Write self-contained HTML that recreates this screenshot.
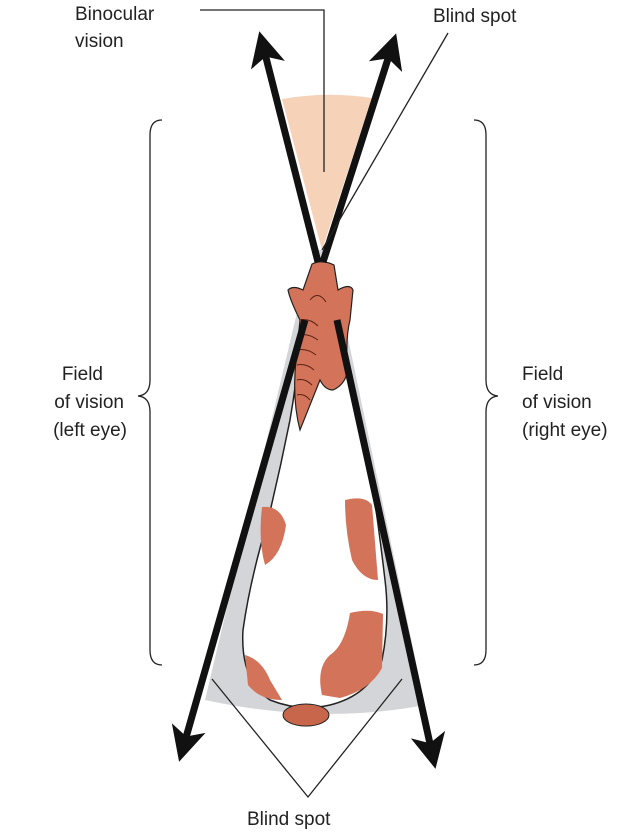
<!DOCTYPE html>
<html><head><style>
body{margin:0;background:#fff;}
svg{display:block;}
text{font-family:"Liberation Sans",sans-serif;font-size:19px;fill:#222;}
</style></head><body>
<svg width="640" height="834" viewBox="0 0 640 834">
<defs>
<marker id="ah" viewBox="0 0 10 10" refX="8" refY="5" markerWidth="5" markerHeight="5" orient="auto" markerUnits="strokeWidth">
<path d="M0,0 L10,5 L0,10 L2.5,5 Z" fill="#111"/></marker>
</defs>
<path d="M282,99 Q327,91 372,98 L322,250 Z" fill="#f6d2b8"/>
<path d="M300,300 L340,300 L425,705 Q320,725 205,700 Z" fill="#d4d5d8"/>
<path d="M315,250 L328,250 L321,262 Z" fill="#d4d5d8"/>
<!-- horse body -->
<path d="M300,340 Q297,380 290,420 Q280,470 268,520 Q250,580 243,630 Q240,680 270,700 Q300,712 330,705 Q370,695 382,660 Q390,620 385,580 Q378,520 370,470 Q360,420 350,380 Q345,355 345,340 Z" fill="#fff" stroke="#222" stroke-width="1.5"/>
<!-- spots -->
<path d="M262,507 Q280,505 286,525 Q282,555 265,565 Q258,540 262,507 Z" fill="#d2735a"/>
<path d="M345,500 Q365,495 372,505 L378,580 Q362,580 352,560 Q345,530 345,500 Z" fill="#d2735a"/>
<path d="M350,613 Q370,608 383,614 L382,668 Q370,690 340,698 L322,695 Q316,668 330,655 Q345,645 350,613 Z" fill="#d2735a"/>
<path d="M245,655 Q262,660 270,680 L282,700 Q260,700 248,685 Z" fill="#d2735a"/>
<!-- head/neck -->
<path d="M312,264 Q322,259 334,265 L338,290 Q350,283 353,290 L350,320 Q345,340 348,370 Q345,385 333,390 Q325,390 320,380 L300,430 Q292,400 296,360 L300,320 Q290,300 288,290 Q293,285 303,290 Z" fill="#d2735a" stroke="#222" stroke-width="1.2"/>
<g stroke="#5a2214" stroke-width="1" fill="none">
<path d="M300,320 Q310,318 318,326"/><path d="M298,335 Q308,333 318,340"/><path d="M297,350 Q307,348 316,355"/><path d="M297,365 Q306,363 314,370"/><path d="M297,380 Q305,378 312,385"/><path d="M297,395 Q304,393 310,400"/><path d="M310,300 Q318,290 326,302"/>
</g>
<ellipse cx="306" cy="715" rx="23" ry="11" fill="#c8664c" stroke="#222" stroke-width="1"/>
<g stroke="#111" stroke-width="7" fill="none" marker-end="url(#ah)">
<line x1="318" y1="262" x2="261" y2="38"/>
<line x1="323" y1="262" x2="394" y2="40"/>
<line x1="305" y1="320" x2="181" y2="755"/>
<line x1="337" y1="320" x2="434" y2="762"/>
</g>
<g stroke="#222" stroke-width="1.3" fill="none">
<polyline points="200,10 324,10 324,172"/>
<line x1="448" y1="33" x2="322" y2="250"/>
<polyline points="212,679 308,797 402,679"/>
<path d="M162,120 Q150,120 150,135 L150,380 Q150,395 138,396 Q150,397 150,412 L150,650 Q150,665 162,665"/>
<path d="M474,120 Q486,120 486,135 L486,380 Q486,395 498,396 Q486,397 486,412 L486,650 Q486,665 474,665"/>
</g>
<text x="75" y="20">Binocular</text>
<text x="75" y="47">vision</text>
<text x="433" y="22">Blind spot</text>
<text x="103" y="380" text-anchor="end">Field</text>
<text x="124" y="408" text-anchor="end">of vision</text>
<text x="127" y="436" text-anchor="end">(left eye)</text>
<text x="522" y="380">Field</text>
<text x="522" y="408">of vision</text>
<text x="522" y="436">(right eye)</text>
<text x="247" y="825">Blind spot</text>
</svg>
</body></html>
